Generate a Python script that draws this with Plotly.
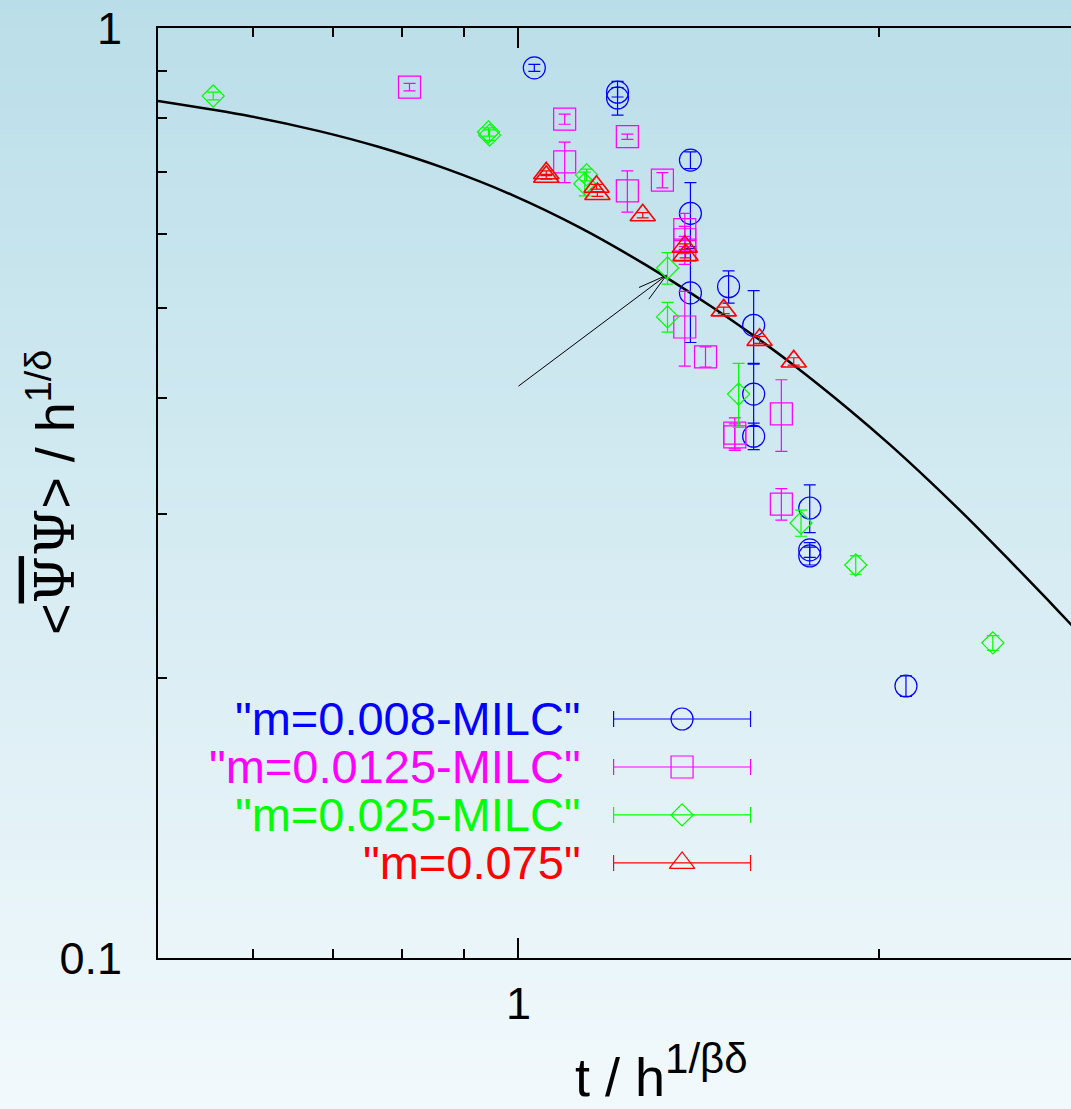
import plotly.graph_objects as go
import math

# ---------------- data ----------------
blue_t = [1.031, 1.210, 1.210, 1.392, 1.392, 1.392, 1.498, 1.572, 1.572, 1.572, 1.751, 1.751, 1.751, 2.107]
blue_y = [0.906, 0.853, 0.841, 0.721, 0.632, 0.519, 0.527, 0.479, 0.404, 0.364, 0.3047, 0.2747, 0.2706, 0.1961]
blue_err = [0.008, 0.01, 0.035, 0.015, 0.05, 0.06, 0.021, 0.043, 0.031, 0.012, 0.018, 0.005, 0.006, 0.005]

magenta_t = [0.811, 1.093, 1.093, 1.233, 1.233, 1.319, 1.377, 1.377, 1.377, 1.377, 1.433, 1.516, 1.516, 1.658, 1.658]
magenta_y = [0.864, 0.798, 0.718, 0.764, 0.668, 0.686, 0.607, 0.592, 0.577, 0.477, 0.443, 0.3668, 0.3633, 0.3846, 0.3077]
magenta_err = [0.008, 0.01, 0.036, 0.005, 0.034, 0.013, 0.025, 0.02, 0.02, 0.044, 0.011, 0.014, 0.012, 0.034, 0.012]

green_t = [0.556, 0.946, 0.944, 1.140, 1.136, 1.332, 1.332, 1.527, 1.722, 1.913, 2.490]
green_y = [0.845, 0.767, 0.773, 0.695, 0.680, 0.552, 0.489, 0.404, 0.2936, 0.2646, 0.2182]
green_err = [0.008, 0.01, 0.008, 0.01, 0.02, 0.0215, 0.018, 0.032, 0.0095, 0.006, 0.004]

red_t = [1.055, 1.055, 1.162, 1.164, 1.270, 1.377, 1.379, 1.484, 1.590, 1.698]
red_y = [0.698, 0.692, 0.675, 0.663, 0.629, 0.582, 0.570, 0.497, 0.462, 0.438]
red_err = [0.004, 0.004, 0.004, 0.004, 0.004, 0.004, 0.004, 0.004, 0.004, 0.004]

curve_t = [0.5, 0.5957, 0.6817, 0.7651, 0.8706, 0.9886, 1.1246, 1.2794, 1.4532, 1.5695,
           1.6950, 1.8915, 2.0427, 2.2058, 2.3697, 2.5586, 2.7638, 2.8938, 3.0]
curve_y = [0.8346, 0.8042, 0.7747, 0.7447, 0.7055, 0.6612, 0.6104, 0.5555, 0.5005, 0.4676,
           0.4347, 0.3882, 0.3565, 0.3255, 0.2977, 0.2694, 0.2431, 0.2284, 0.2173]

arrow_t = [1.0, 1.329, None, 1.261, 1.329, 1.285]
arrow_y = [0.412, 0.542, None, 0.526, 0.542, 0.511]

series_names = ['"m=0.008-MILC"', '"m=0.0125-MILC"', '"m=0.025-MILC"', '"m=0.075"']
series_colors = ["#0000ff", "#ff00ff", "#00ff00", "#ff0000"]
series_symbols = ["circle-open", "square-open", "diamond-open", "triangle-up-open"]
series_sizes = [22, 22, 17, 22]
series_lw = [1.2, 1.2, 1.2, 1.6]

x_major = [1]
x_major_text = ["1"]
x_minor = [0.6, 0.7, 0.8, 0.9, 2]
y_major = [0.1, 1]
y_major_text = ["0.1", "1"]
y_minor = [0.2, 0.3, 0.4, 0.5, 0.6, 0.7, 0.8, 0.9]

# ---------------- geometry ----------------
W, H = 1071, 1109
ML, MR, MT, MB = 158, 0, 28, 151
PW, PH = W - ML - MR, H - MT - MB
FONT = "Liberation Sans, Arial, sans-serif"

fig = go.Figure()

# background gradient (strips)
top_c = (186, 222, 233)
bot_c = (242, 249, 252)
n_strips = 111
shapes = []
for i in range(n_strips):
    f = i / (n_strips - 1)
    c = tuple(round(top_c[k] + (bot_c[k] - top_c[k]) * f) for k in range(3))
    py0 = H * i / n_strips
    py1 = H * (i + 1) / n_strips + 1
    shapes.append(dict(type="rect", xref="paper", yref="paper", layer="below",
                       x0=-ML / PW, x1=1.0 + 1 / PW,
                       y0=(H - MB - py1) / PH, y1=(H - MB - py0) / PH,
                       line=dict(width=0), fillcolor="rgb(%d,%d,%d)" % c))

# curve
fig.add_trace(go.Scatter(x=curve_t, y=curve_y, mode="lines",
                         line=dict(color="black", width=2.5, shape="spline", smoothing=0.8),
                         hoverinfo="skip"))
# arrow
fig.add_trace(go.Scatter(x=arrow_t, y=arrow_y, mode="lines",
                         line=dict(color="black", width=1), hoverinfo="skip"))

data = [(blue_t, blue_y, blue_err), (magenta_t, magenta_y, magenta_err),
        (green_t, green_y, green_err), (red_t, red_y, red_err)]
for (t, y, e), name, col, sym, sz, lw in zip(data, series_names, series_colors, series_symbols,
                                              series_sizes, series_lw):
    fig.add_trace(go.Scatter(x=t, y=y, mode="markers", name=name,
                             marker=dict(symbol=sym, size=sz, color=col, line=dict(width=lw, color=col)),
                             error_y=dict(type="data", array=e, color=col, thickness=1.2, width=6)))

# custom key (on an overlay axis spanning the plot area)
key_x = 0.574
key_half = 0.075
key_rows = [0.257, 0.2054, 0.1538, 0.1022]
text_x = 0.466
annotations = []
for name, col, sym, sz, ky in zip(series_names, series_colors, series_symbols, series_sizes, key_rows):
    fig.add_trace(go.Scatter(x=[key_x], y=[ky], xaxis="x2", yaxis="y2", mode="markers",
                             marker=dict(symbol=sym, size=sz, color=col, line=dict(width=1.2, color=col)),
                             error_x=dict(type="constant", value=key_half, color=col, thickness=1.2, width=8),
                             cliponaxis=False, hoverinfo="skip"))
    annotations.append(dict(xref="paper", yref="paper", x=text_x, y=ky, xanchor="right", yanchor="middle",
                            text=name, showarrow=False, font=dict(family=FONT, size=47, color=col)))

# axis titles
annotations.append(dict(xref="paper", yref="paper", x=(573 - ML) / PW, y=-(1109 - (H - MB)) / PH,
                        xanchor="left", yanchor="bottom", showarrow=False,
                        text="t / h<sup><span style=\"font-size:42px\">1/βδ</span></sup>",
                        font=dict(family=FONT, size=54, color="black")))
annotations.append(dict(xref="paper", yref="paper", x=(52 - ML) / PW, y=(H - MB - 493) / PH,
                        xanchor="center", yanchor="middle", textangle=-90, showarrow=False,
                        text="&lt;<span style=\"font-family:DejaVu Serif;text-decoration:overline\">Ψ</span>"
                             "<span style=\"font-family:DejaVu Serif\">Ψ</span>&gt; / h<sup>1/δ</sup>",
                        font=dict(family=FONT, size=54, color="black")))

fig.update_layout(
    width=W, height=H, margin=dict(l=ML, r=MR, t=MT, b=MB, pad=0),
    paper_bgcolor="rgb(214,236,242)", plot_bgcolor="rgba(0,0,0,0)",
    showlegend=False, shapes=shapes, annotations=annotations,
    font=dict(family=FONT, color="black"),
    xaxis=dict(type="log", range=[math.log10(0.5), math.log10(2.894)],
               showgrid=False, zeroline=False, showline=True, linecolor="black", linewidth=2,
               mirror="ticks", ticks="inside", ticklen=20, tickwidth=2, tickcolor="black",
               tickmode="array", tickvals=x_major, ticktext=x_major_text,
               tickfont=dict(family=FONT, size=45, color="black"), ticklabelstandoff=5,
               minor=dict(tickmode="array", tickvals=x_minor, ticks="inside", ticklen=9,
                          tickwidth=2, tickcolor="black", showgrid=False)),
    yaxis=dict(type="log", range=[-1, 0],
               showgrid=False, zeroline=False, showline=True, linecolor="black", linewidth=2,
               mirror=False, ticks="inside", ticklen=20, tickwidth=2, tickcolor="black",
               tickmode="array", tickvals=y_major, ticktext=y_major_text,
               tickfont=dict(family=FONT, size=45, color="black"), ticklabelstandoff=25,
               minor=dict(tickmode="array", tickvals=y_minor, ticks="inside", ticklen=9,
                          tickwidth=2, tickcolor="black", showgrid=False)),
    xaxis2=dict(overlaying="x", anchor="y2", range=[0, 1], visible=False),
    yaxis2=dict(overlaying="y", anchor="x2", range=[0, 1], visible=False),
)

fig.write_html("out.html", config={"displayModeBar": False},
               post_script="document.body.style.margin='0';document.body.style.overflow='hidden';")
